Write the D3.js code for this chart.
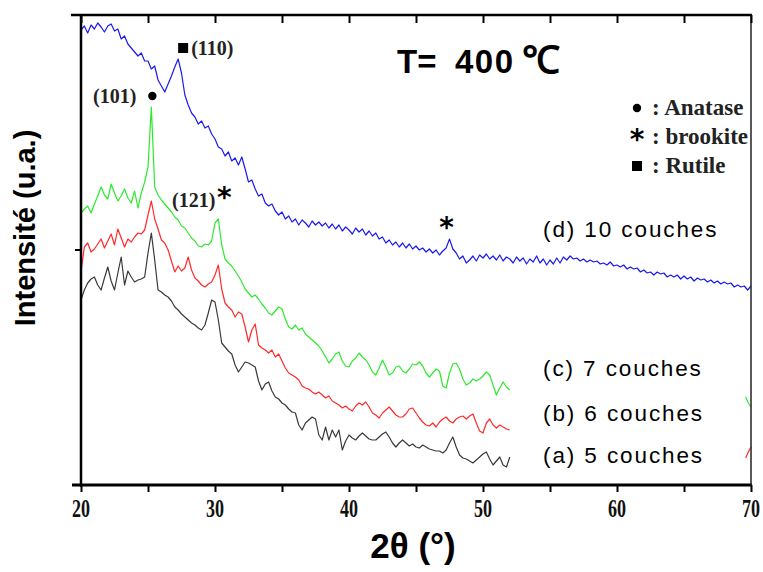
<!DOCTYPE html>
<html><head><meta charset="utf-8">
<script src="https://cdn.jsdelivr.net/npm/d3@7/dist/d3.min.js"></script>
<style>body{margin:0;background:#fff}svg{display:block}</style>
</head><body>
<svg id="chart" width="763" height="572"></svg>
<script>
// 2θ grid: values sampled every 0.25°
const thetaStart = 20;
const thetaStep = 0.25;
// (d) 10 couches, 20°..70°
const seriesD = [
455,459,452,460, 456,462,458,453, 459,461,454,456, 446,449,441,437, 433,429,432,424,
424,416,419,405, 399,393,401,409, 418,426,412,390, 380,372,368,361, 364,357,359,351,
346,338,336,329, 333,324,327,320, 328,316,303,305, 296,289,291,282, 279,281,274,270,
273,266,269,263, 266,260,265,262, 258,264,260,263, 259,262,257,261, 256,260,254,258,
255,251,257,253, 256,250,254,249, 252,246,248,242, 245,240,243,238, 242,237,241,236,
239,235,237,233, 236,232,235,230, 234,237,246,236, 232,226,229,222, 225,229,224,230,
227,231,226,229, 225,230,224,228, 226,222,228,224, 227,221,226,223, 229,222,226,220,
225,221,227,222, 228,225,229,226, 227,224,226,223, 225,223,224,221, 222,220,223,219,
220,218,220,216, 218,216,217,213, 215,212,213,210, 213,211,212,208, 210,208,210,206,
209,206,208,204, 207,205,206,203, 205,202,204,201, 203,201,202,198, 200,198,199,195,
199];
// (c) 7 couches, 20°..52°
const seriesC = [
272,276,279,272, 281,289,298,290, 286,301,292,284, 289,296,287,282, 294,277,292,303,
318,378,298,290, 285,281,277,273, 268,265,259,257, 252,247,244,239, 238,241,240,244,
262,266,240,226, 222,219,214,209, 203,196,192,188, 190,186,181,177, 172,170,174,178,
176,166,158,156, 160,155,157,151, 148,145,142,139, 134,128,122,126, 131,133,124,119,
118,124,127,132, 128,125,120,113, 110,117,125,118, 110,112,118,119, 114,112,116,121,
120,123,119,112, 108,112,116,114, 99,97,112,121, 122,116,106,100, 102,106,104,106,
109,113,110,100, 90,97,103,98, 95];
// (b) 6 couches, 20°..52°
const seriesB = [
213,238,242,233, 236,241,246,237, 244,251,240,256, 247,238,246,243, 248,252,251,255,
270,284,266,256, 245,242,235,224, 213,219,214,217, 228,215,207,204, 200,198,201,203,
210,220,196,182, 178,175,168,173, 171,158,143,155, 161,140,137,135, 132,135,128,131,
124,117,112,110, 108,105,99,97, 96,93,91,93, 90,87,89,84, 82,80,77,79,
76,74,79,82, 80,83,78,72, 70,67,72,75, 78,74,70,68, 68,71,76,77,
72,67,63,60, 59,62,58,63, 66,68,64,62, 66,68,69,66, 69,71,62,54,
52,62,66,60, 57,60,58,56, 55];
// (a) 5 couches, 20°..52°
const seriesA = [
185,195,202,206, 208,200,195,207, 218,204,195,212, 228,200,214,208, 203,205,206,208,
232,252,225,195, 193,190,188,184, 178,175,171,168, 165,162,160,157, 155,160,172,185,
183,165,142,138, 134,131,120,113, 118,123,122,120, 118,104,95,101, 103,94,88,86,
82,80,76,73, 72,60,55,62, 65,68,66,50, 45,58,45,55, 48,55,35,44,
50,47,45,49, 52,49,46,45, 45,48,51,53, 48,42,38,42, 45,42,39,41,
38,37,40,38, 36,35,34,34, 32,35,42,48, 38,30,27,26, 24,22,25,28,
31,33,26,20, 24,28,20,18, 28];
// stray fragments at right edge (x, y)
const fragC = [[69.6,88],[69.8,82],[70,78]];
const fragB = [[69.6,27],[69.8,33],[70,38]];

const seriesNames = ["(a) 5 couches","(b) 6 couches","(c) 7 couches","(d) 10 couches"];
const seriesColors = ["#3a3a3a","#ff2a2a","#2ee82e","#1a1aee"];
const xTicks = [20,30,40,50,60,70];
const xMinorTicks = [25,35,45,55,65];
// peak annotations: position of the peak (2θ, intensity)
const peakLabels = [
  {text:"(101)", x:25.25, y:378},
  {text:"(110)", x:27.25, y:426},
  {text:"(121)", x:30.25, y:266},
  {text:"", x:47.5, y:246}
];
const legendItems = [
  {sym:"dot", text:": Anatase"},
  {sym:"star", text:": brookite"},
  {sym:"square", text:": Rutile"}
];

const svg = d3.select("#chart");
const x = d3.scaleLinear().domain([20,70]).range([81,751]);
const y = d3.scaleLinear().domain([0,470]).range([485,15]);

const toPts = arr => arr.map((v,i)=>[thetaStart+i*thetaStep, v]);
const line = d3.line().x(d=>x(d[0])).y(d=>y(d[1]));

const all = [seriesA, seriesB, seriesC, seriesD];
all.forEach((s,i)=>{
  svg.append("path").attr("d", line(toPts(s))).attr("fill","none")
    .attr("stroke", seriesColors[i]).attr("stroke-width",1.2).attr("stroke-linejoin","round");
});
svg.append("path").attr("d", line(fragC)).attr("fill","none").attr("stroke",seriesColors[2]).attr("stroke-width",1.2);
svg.append("path").attr("d", line(fragB)).attr("fill","none").attr("stroke",seriesColors[1]).attr("stroke-width",1.2);

// frame
svg.append("line").attr("x1",71).attr("x2",752).attr("y1",y(470)).attr("y2",y(470)).attr("stroke","#000").attr("stroke-width",2.5);
svg.append("line").attr("x1",72).attr("x2",752).attr("y1",y(0)).attr("y2",y(0)).attr("stroke","#000").attr("stroke-width",3);
svg.append("line").attr("x1",x(20)).attr("x2",x(20)).attr("y1",14).attr("y2",487).attr("stroke","#000").attr("stroke-width",2.5);
svg.append("line").attr("x1",x(70)).attr("x2",x(70)).attr("y1",14).attr("y2",487).attr("stroke","#222").attr("stroke-width",1.5);

// bottom axis
const xb = d3.axisBottom(x).tickValues(xTicks.concat(xMinorTicks)).tickSize(7).tickFormat("");
const gB = svg.append("g").attr("transform",`translate(0,${y(0)})`).call(xb);
gB.select(".domain").remove();
gB.selectAll(".tick line").attr("stroke-width",2);
xTicks.forEach(t=>{
  const ty = y(0)+32;
  svg.append("text").attr("x",x(t)).attr("y",ty)
    .attr("text-anchor","middle").attr("font-family","Liberation Serif")
    .attr("font-size",19).attr("font-weight","bold").attr("fill","#111")
    .attr("transform",`translate(${x(t)},${ty}) scale(0.95,1.35) translate(${-x(t)},${-ty})`)
    .text(t);
});
// top axis (inward ticks)
const xt = d3.axisBottom(x).tickValues(xTicks.concat(xMinorTicks)).tickSize(8).tickFormat("");
const gT = svg.append("g").attr("transform",`translate(0,${y(470)})`).call(xt);
gT.select(".domain").remove();
gT.selectAll(".tick line").attr("stroke-width",2);
// left tick
svg.append("line").attr("x1",x(20)-6).attr("x2",x(20)).attr("y1",y(235)).attr("y2",y(235)).attr("stroke","#000").attr("stroke-width",2);

// axis titles
svg.append("text").attr("x",413).attr("y",558).attr("text-anchor","middle")
  .attr("font-family","Liberation Sans, Arial").attr("font-weight","bold").attr("font-size",35).text("2θ (°)");
svg.append("text").attr("transform","translate(35,228) rotate(-90)").attr("text-anchor","middle")
  .attr("font-family","Liberation Sans, Arial").attr("font-weight","bold").attr("font-size",29).text("Intensité (u.a.)");

// title
const tt = svg.append("text").attr("y",73).attr("font-family","Liberation Sans, Arial")
  .attr("font-weight","bold").attr("font-size",33);
tt.append("tspan").attr("x",397).text("T=");
tt.append("tspan").attr("x",455).attr("letter-spacing",1.5).text("400");
tt.append("tspan").attr("x",522).attr("font-size",38).text("℃");

// marker helpers
function marker(g, type, cx, cy){
  if(type==="dot") g.append("circle").attr("cx",cx).attr("cy",cy).attr("r",4.2).attr("fill","#000");
  else if(type==="square") g.append("rect").attr("x",cx-5).attr("y",cy-5).attr("width",10).attr("height",10).attr("fill","#000");
  else g.append("text").attr("x",cx).attr("y",cy+12).attr("text-anchor","middle").attr("font-family","DejaVu Sans")
        .attr("font-weight","bold").attr("font-size",28).text("*");
}
const serifLbl = (g, xx, yy, txt, anchor) => g.append("text").attr("x",xx).attr("y",yy).attr("text-anchor",anchor)
  .attr("font-family","Liberation Serif").attr("font-weight","bold").attr("font-size",20).attr("fill","#222").text(txt);
// peak labels
const pl = svg.append("g");
// (101)
marker(pl,"dot",x(peakLabels[0].x)+1,y(peakLabels[0].y)-11);
serifLbl(pl, x(peakLabels[0].x)-15, y(peakLabels[0].y)-4, peakLabels[0].text, "end");
// (110)
marker(pl,"square",x(peakLabels[1].x)+5,y(peakLabels[1].y)-11);
serifLbl(pl, x(peakLabels[1].x)+13, y(peakLabels[1].y)-4, peakLabels[1].text, "start");
// (121) *
serifLbl(pl, x(peakLabels[2].x)-3, y(peakLabels[2].y)-12, peakLabels[2].text, "end");
marker(pl,"star",x(peakLabels[2].x)+6,y(peakLabels[2].y)-24);
// brookite star at 47.5
marker(pl,"star",x(peakLabels[3].x)-3,y(peakLabels[3].y)-14);

// legend
const lg = svg.append("g");
legendItems.forEach((d,i)=>{
  const cy = 108 + i*29;
  marker(lg, d.sym, 637, cy);
  lg.append("text").attr("x",652).attr("y",cy+7).attr("font-family","Liberation Serif")
    .attr("font-weight","bold").attr("font-size",23).attr("fill","#222").text(d.text);
});

// series labels
const labelY = [463,421,376,237];
seriesNames.forEach((n,i)=>{
  svg.append("text").attr("x",543).attr("y",labelY[i]).attr("font-family","Liberation Sans, Arial")
    .attr("font-size",22.5).attr("letter-spacing",1.9).attr("fill","#000").text(n);
});
</script>
</body></html>
